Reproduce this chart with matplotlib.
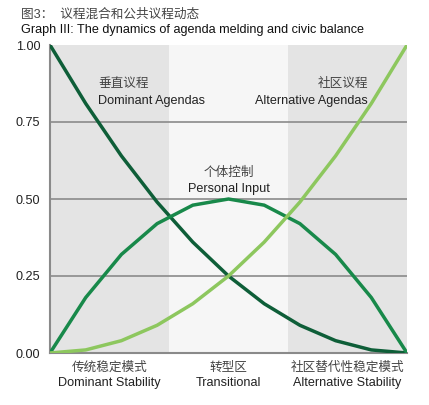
import matplotlib
matplotlib.use("Agg")
import matplotlib.pyplot as plt

x = [0.0, 0.1, 0.2, 0.3, 0.4, 0.5, 0.6, 0.7, 0.8, 0.9, 1.0]
dominant = [1.00, 0.81, 0.64, 0.49, 0.36, 0.25, 0.16, 0.09, 0.04, 0.01, 0.00]
personal = [0.00, 0.18, 0.32, 0.42, 0.48, 0.50, 0.48, 0.42, 0.32, 0.18, 0.00]
alternative = [0.00, 0.01, 0.04, 0.09, 0.16, 0.25, 0.36, 0.49, 0.64, 0.81, 1.00]
yticks = [0.00, 0.25, 0.50, 0.75, 1.00]
ytick_labels = ["0.00", "0.25", "0.50", "0.75", "1.00"]
zone_edges = [0.0, 1/3, 2/3, 1.0]
zone_cn = ["传统稳定模式", "转型区", "社区替代性稳定模式"]
zone_en = ["Dominant Stability", "Transitional", "Alternative Stability"]

fam = ["Liberation Sans", "Noto Sans CJK SC", "DejaVu Sans"]
plt.rcParams['font.family'] = fam
FS = 9.1

fig = plt.figure(figsize=(4.29, 4.05), dpi=100)
ax = fig.add_axes([50/429, 1-353/405, 357/429, 308/405])

zone_colors = ["#e4e4e4", "#f6f6f6", "#e4e4e4"]
for i in range(3):
    ax.axvspan(zone_edges[i], zone_edges[i+1], color=zone_colors[i], lw=0, zorder=0)

for yv in [0.25, 0.50, 0.75]:
    ax.axhline(yv, color="#8a8a8a", lw=1.2, zorder=1)

ax.plot(x, dominant, color="#0e5e38", lw=2.5, zorder=3, solid_joinstyle="miter")
ax.plot(x, personal, color="#18894a", lw=2.5, zorder=3, solid_joinstyle="miter")
ax.plot(x, alternative, color="#8dc75e", lw=2.5, zorder=3, solid_joinstyle="miter")

ax.set_xlim(0, 1)
ax.set_ylim(0, 1)
ax.set_xticks([])
ax.set_yticks(yticks)
ax.set_yticklabels(ytick_labels, fontsize=FS, color="#222222")
ax.tick_params(axis="y", length=0, pad=7)
for s in ["top", "right"]:
    ax.spines[s].set_visible(False)
for s in ["left", "bottom"]:
    ax.spines[s].set_color("#8a8a8a")
    ax.spines[s].set_linewidth(1.5)

# curve labels
ax.text(0.135, 0.873, "垂直议程", fontsize=FS, color="#444444", ha="left", va="center")
ax.text(0.135, 0.818, "Dominant Agendas", fontsize=FS, color="#222222", ha="left", va="center")
ax.text(0.89, 0.873, "社区议程", fontsize=FS, color="#444444", ha="right", va="center")
ax.text(0.89, 0.818, "Alternative Agendas", fontsize=FS, color="#222222", ha="right", va="center")
ax.text(0.5, 0.584, "个体控制", fontsize=FS, color="#444444", ha="center", va="center")
ax.text(0.5, 0.534, "Personal Input", fontsize=FS, color="#222222", ha="center", va="center")

for i in range(3):
    cx = (zone_edges[i] + zone_edges[i+1]) / 2
    ax.text(cx, -0.048, zone_cn[i], fontsize=FS, color="#444444", ha="center", va="center",
            clip_on=False)
    ax.text(cx, -0.098, zone_en[i], fontsize=FS, color="#222222", ha="center", va="center",
            clip_on=False)

fig.text(21/429, 1-14.5/405, "图3：  议程混合和公共议程动态", fontsize=FS, color="#444444", ha="left", va="center")
fig.text(21/429, 1-29.5/405, "Graph III: The dynamics of agenda melding and civic balance", fontsize=FS,
         color="#111111", ha="left", va="center")

fig.savefig("out.png", dpi=100, facecolor="white")
